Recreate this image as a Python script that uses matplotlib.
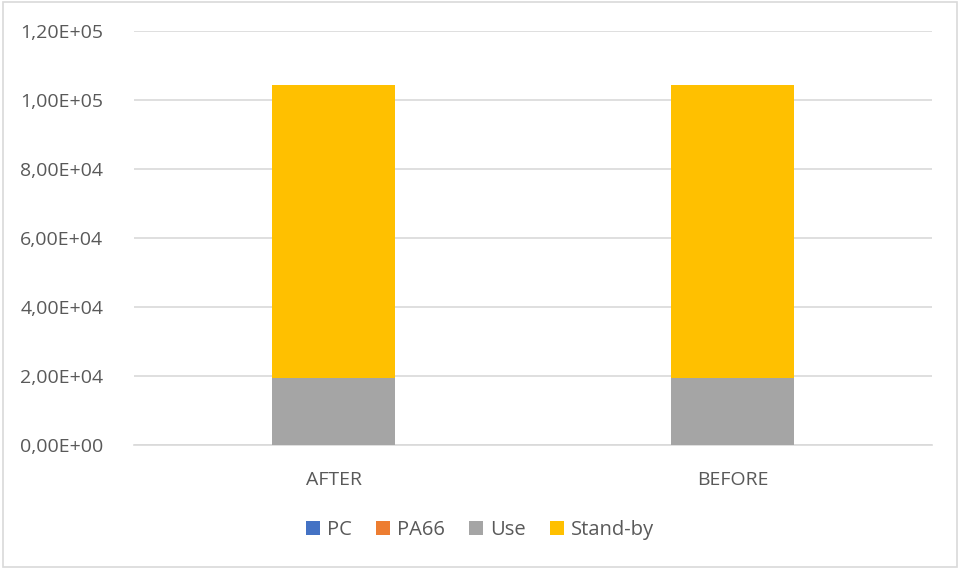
import numpy as np
import matplotlib.pyplot as plt
from matplotlib.patches import Rectangle

plt.rcParams['font.family'] = ['Open Sans', 'DejaVu Sans']

categories = ['AFTER', 'BEFORE']
series_names = ['PC', 'PA66', 'Use', 'Stand-by']
pc = [60, 60]
pa66 = [40, 40]
use = [19400, 19400]
standby = [84800, 84800]
colors = ['#4472C4', '#ED7D31', '#A5A5A5', '#FFC000']
yticks = [0, 20000, 40000, 60000, 80000, 100000, 120000]

fig = plt.figure(figsize=(9.6, 5.69), dpi=100)
ax = fig.add_axes([0.1396, 0.2179, 0.8312, 0.7276])

x = np.arange(len(categories))
bottom = np.zeros(len(categories))
for name, vals, col in zip(series_names, [pc, pa66, use, standby], colors):
    ax.bar(x, vals, width=0.31, bottom=bottom, color=col, label=name, zorder=3)
    bottom += np.array(vals)

ax.set_xlim(-0.5, 1.5)
ax.set_ylim(0, 120000)
ax.set_yticks(yticks)
ax.set_yticklabels(['{:.2E}'.format(v).replace('.', ',') for v in yticks])
ax.set_xticks(x)
ax.set_xticklabels(categories)
ax.tick_params(axis='both', length=0, labelsize=14, colors='#595959')
ax.tick_params(axis='y', pad=22)
ax.tick_params(axis='x', pad=19)
ax.grid(axis='y', color='#d9d9d9', linewidth=1.2, zorder=0)
for s in ['top', 'right', 'left']:
    ax.spines[s].set_visible(False)
ax.spines['bottom'].set_color('#d9d9d9')
ax.spines['bottom'].set_linewidth(1.2)

leg = fig.legend(loc='center', bbox_to_anchor=(0.5, 0.068), ncol=4, frameon=False,
                 fontsize=14.5, handlelength=0.7, handleheight=0.7,
                 handletextpad=0.35, columnspacing=1.2, labelcolor='#595959')

fig.patches.append(Rectangle((0.003, 0.003), 0.994, 0.994, transform=fig.transFigure,
                             fill=False, edgecolor='#d9d9d9', linewidth=1.2))

plt.savefig('out.png', dpi=100)
